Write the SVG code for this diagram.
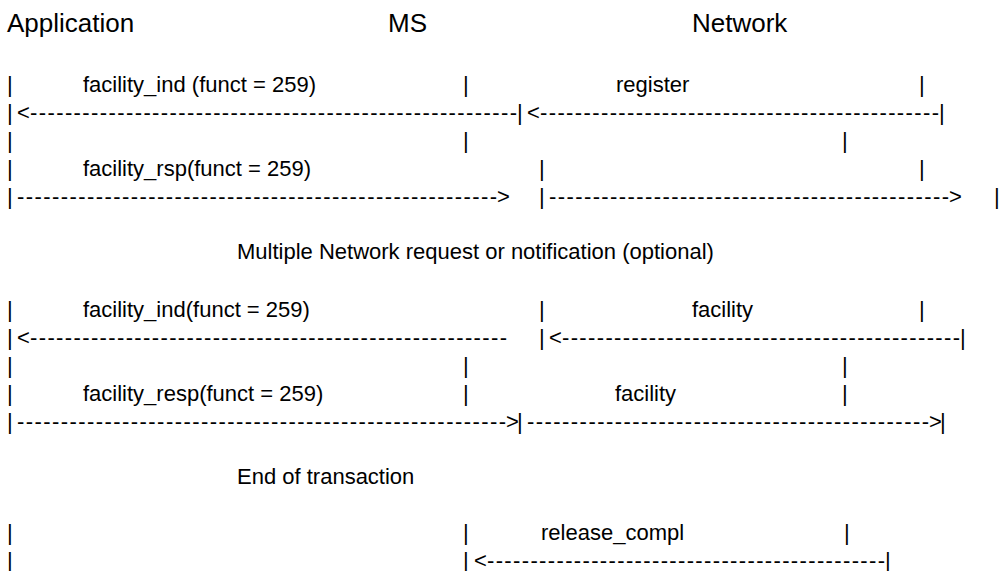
<svg xmlns="http://www.w3.org/2000/svg" width="1005" height="571" viewBox="0 0 1005 571">
<style>
text{font-family:"Liberation Sans",Arial,sans-serif;fill:#000}
.h{font-size:26px}
.t{font-size:22px}
.d{font-size:22px}
</style>
<rect width="1005" height="571" fill="#fff"/>
<g id="node-application"><text class="h" x="7" y="32">Application</text></g>
<g id="node-ms"><text class="h" x="388" y="32">MS</text></g>
<g id="node-network"><text class="h" x="692" y="32">Network</text></g>

<g id="connectors">
 <g id="row-a">
  <text class="t" x="7" y="92">|</text>
  <text class="t" x="83" y="92">facility_ind (funct = 259)</text>
  <text class="t" x="463" y="92">|</text>
  <text class="t" x="616" y="92">register</text>
  <text class="t" x="919" y="92">|</text>
 </g>
 <g id="row-b">
  <text class="t" x="7" y="120">|</text>
  <text class="t" x="17" y="120">&lt;</text>
  <text class="d" x="30" y="120" textLength="487" lengthAdjust="spacing">--------------------------------------------------------</text>
  <text class="t" x="517" y="120">|</text>
  <text class="t" x="527" y="120">&lt;</text>
  <text class="d" x="540" y="120" textLength="399" lengthAdjust="spacing">----------------------------------------------</text>
  <text class="t" x="939" y="120">|</text>
 </g>
 <g id="row-c">
  <text class="t" x="7" y="148">|</text>
  <text class="t" x="463" y="148">|</text>
  <text class="t" x="842" y="148">|</text>
 </g>
 <g id="row-d">
  <text class="t" x="7" y="176">|</text>
  <text class="t" x="83" y="176">facility_rsp(funct = 259)</text>
  <text class="t" x="539" y="176">|</text>
  <text class="t" x="919" y="176">|</text>
 </g>
 <g id="row-e">
  <text class="t" x="7" y="204">|</text>
  <text class="d" x="17" y="204" textLength="480" lengthAdjust="spacing">-------------------------------------------------------</text>
  <text class="t" x="497" y="204">&gt;</text>
  <text class="t" x="539" y="204">|</text>
  <text class="d" x="549" y="204" textLength="400" lengthAdjust="spacing">----------------------------------------------</text>
  <text class="t" x="949" y="204">&gt;</text>
  <text class="t" x="994" y="204">|</text>
 </g>
 <g id="note-multiple">
  <text class="t" x="237" y="259">Multiple Network request or notification (optional)</text>
 </g>
 <g id="row-f">
  <text class="t" x="7" y="317">|</text>
  <text class="t" x="83" y="317">facility_ind(funct = 259)</text>
  <text class="t" x="539" y="317">|</text>
  <text class="t" x="692" y="317">facility</text>
  <text class="t" x="919" y="317">|</text>
 </g>
 <g id="row-g">
  <text class="t" x="7" y="345">|</text>
  <text class="t" x="17" y="345">&lt;</text>
  <text class="d" x="30" y="345" textLength="477" lengthAdjust="spacing">-------------------------------------------------------</text>
  <text class="t" x="539" y="345">|</text>
  <text class="t" x="549" y="345">&lt;</text>
  <text class="d" x="562" y="345" textLength="398" lengthAdjust="spacing">----------------------------------------------</text>
  <text class="t" x="960" y="345">|</text>
 </g>
 <g id="row-h">
  <text class="t" x="7" y="373">|</text>
  <text class="t" x="463" y="373">|</text>
  <text class="t" x="842" y="373">|</text>
 </g>
 <g id="row-i">
  <text class="t" x="7" y="401">|</text>
  <text class="t" x="83" y="401">facility_resp(funct = 259)</text>
  <text class="t" x="463" y="401">|</text>
  <text class="t" x="615" y="401">facility</text>
  <text class="t" x="842" y="401">|</text>
 </g>
 <g id="row-j">
  <text class="t" x="7" y="429">|</text>
  <text class="d" x="17" y="429" textLength="489" lengthAdjust="spacing">--------------------------------------------------------</text>
  <text class="t" x="506" y="429">&gt;</text>
  <text class="t" x="517" y="429">|</text>
  <text class="d" x="527" y="429" textLength="402" lengthAdjust="spacing">----------------------------------------------</text>
  <text class="t" x="929" y="429">&gt;</text>
  <text class="t" x="940" y="429">|</text>
 </g>
 <g id="note-end">
  <text class="t" x="237" y="484">End of transaction</text>
 </g>
 <g id="row-k">
  <text class="t" x="7" y="540">|</text>
  <text class="t" x="463" y="540">|</text>
  <text class="t" x="541" y="540">release_compl</text>
  <text class="t" x="844" y="540">|</text>
 </g>
 <g id="row-l">
  <text class="t" x="7" y="568">|</text>
  <text class="t" x="463" y="568">|</text>
  <text class="t" x="474" y="568">&lt;</text>
  <text class="d" x="487" y="568" textLength="398" lengthAdjust="spacing">----------------------------------------------</text>
  <text class="t" x="885" y="568">|</text>
 </g>
</g>
</svg>
